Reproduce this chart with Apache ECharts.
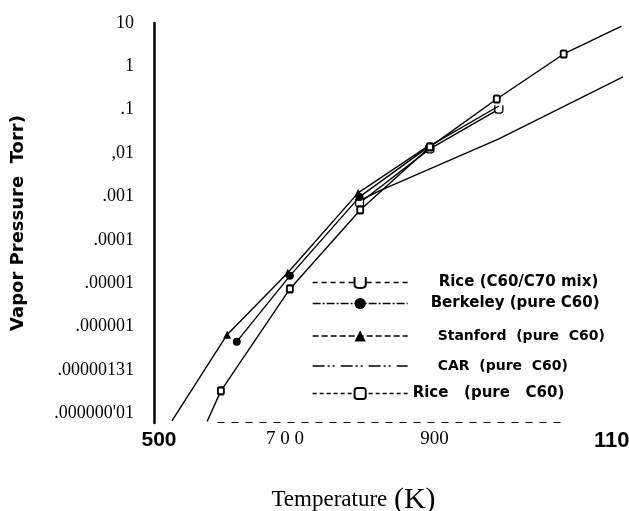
<!DOCTYPE html>
<html><head><meta charset="utf-8">
<script src="https://cdn.jsdelivr.net/npm/echarts@6/dist/echarts.min.js"></script>
<style>html,body{margin:0;padding:0;background:#fff}#c{width:629px;height:511px}</style>
</head><body><div id="c"></div>
<script>
// y tick labels for exponents -8 .. 1 (as printed on the figure)
const yTickLabels = [".000000'01", '.00000131', '.000001', '.00001', '.0001', '.001', ',01', '.1', '1', '10'];
// x tick labels
const xTickValues = [500, 700, 900, 1100];
const xTickLabels = ['500', '7 0 0', '900', '1100'];

// Series: temperature (K), vapor pressure (Torr), measured-point flags
const stanfordT = [526, 606, 694, 796, 900];
const stanfordP = [6.7e-9, 6.5e-7, 1.74e-5, 1.21e-3, 0.0155];
const stanfordM = [0, 1, 1, 1, 0];

const berkeleyT = [620, 697, 798, 900, 1000];
const berkeleyP = [4.5e-7, 1.48e-5, 9.8e-4, 0.0147, 0.122];
const berkeleyM = [1, 1, 1, 0, 0];

const riceMixT = [798, 900, 1000];
const riceMixP = [7.1e-4, 0.0125, 0.103];
const riceMixM = [1, 1, 1];

const carT = [800, 830, 1000, 1180];
const carP = [8.4e-4, 1.42e-3, 0.0212, 0.57];
const carM = [0, 0, 0, 0];

const ricePureT = [577, 597, 697, 799, 900, 997, 1094, 1178];
const ricePureP = [6.5e-9, 3.3e-8, 7.4e-6, 4.9e-4, 0.0139, 0.177, 1.93, 8.5];
const ricePureM = [0, 1, 1, 1, 1, 1, 1, 0];

const names = {
  mix: 'Rice (C60/C70 mix)',
  berk: 'Berkeley (pure C60)',
  stan: 'Stanford  (pure  C60)',
  car: 'CAR  (pure  C60)',
  pure: 'Rice   (pure   C60)'
};

function pts(T, P, M, sym) {
  return T.map((t, i) => ({ value: [t, P[i]], symbol: M[i] ? sym : 'none' }));
}
const uSym = 'path://M0,0 L0,7 Q0,10 4,10 Q8,10 8,7 L8,0';

function lineSeries(name, T, P, M, sym, size, itemStyle, z) {
  return {
    name, type: 'line', xAxisIndex: 0, yAxisIndex: 0,
    data: pts(T, P, M, sym), symbol: sym, symbolSize: size,
    showAllSymbol: true, clip: false, z: z,
    lineStyle: { color: '#000', width: 1.4 },
    itemStyle: itemStyle, animation: false, silent: true
  };
}

const series = [
  lineSeries(names.car, carT, carP, carM, 'none', 0, { color: '#000' }, 2),
  lineSeries(names.mix, riceMixT, riceMixP, riceMixM, uSym, 8, { color: '#fff', borderColor: '#000', borderWidth: 1.3 }, 3),
  lineSeries(names.stan, stanfordT, stanfordP, stanfordM, 'triangle', 8, { color: '#000' }, 4),
  lineSeries(names.berk, berkeleyT, berkeleyP, berkeleyM, 'circle', 8, { color: '#000' }, 4),
  lineSeries(names.pure, ricePureT, ricePureP, ricePureM, 'emptyRoundRect', [6, 7], { color: '#000', borderWidth: 1.3 }, 5)
];

function legendFor(name, centerY, padLeft, fontSize, dash, hideSymbol) {
  const item = { name: name, lineStyle: { type: dash, width: 1.3, color: '#000' } };
  if (hideSymbol) item.itemStyle = { opacity: 0 };
  return {
    orient: 'vertical', left: 312, top: centerY - 7, padding: 0,
    itemWidth: 95, itemHeight: 14, selectedMode: false,
    data: [item],
    formatter: n => '{t|' + n + '}',
    textStyle: {
      rich: { t: { fontFamily: 'DejaVu Sans', fontWeight: 'bold', fontSize: fontSize, color: '#000', padding: [0, 0, 0, padLeft] } }
    }
  };
}

const option = {
  backgroundColor: '#fff',
  animation: false,
  grid: [
    { left: 154, right: 6, top: 23, bottom: 88, containLabel: false, outerBoundsMode: 'none' },
    { left: 218, width: 344, top: 421, height: 1, containLabel: false, outerBoundsMode: 'none' }
  ],
  xAxis: [
    {
      type: 'value', gridIndex: 0, min: 500, max: 1180, interval: 100,
      axisLine: { show: false }, axisTick: { show: false }, splitLine: { show: false },
      axisLabel: {
        margin: 7,
        formatter: v => {
          const i = xTickValues.indexOf(v);
          if (i < 0) return '';
          return '{l' + i + '|' + xTickLabels[i] + '}';
        },
        rich: {
          l0: { fontFamily: 'Liberation Sans', fontWeight: 'bold', fontSize: 21, color: '#000', padding: [0, 0, 0, 10] },
          l1: { fontFamily: 'Liberation Serif', fontSize: 19, color: '#000', padding: [0, 14, 0, 0] },
          l2: { fontFamily: 'Liberation Serif', fontSize: 19, color: '#000', padding: [0, 0, 0, 9] },
          l3: { fontFamily: 'Liberation Sans', fontWeight: 'bold', fontSize: 22, color: '#000', padding: [0, 0, 0, 100] }
        }
      },
      name: '{t|Temperature}  {k|(K)}',
      nameLocation: 'middle', nameGap: 62,
      nameTextStyle: {
        padding: [0, 70, 0, 0],
        rich: {
          t: { fontFamily: 'Liberation Serif', fontSize: 23, color: '#000' },
          k: { fontFamily: 'Liberation Serif', fontSize: 30, color: '#000' }
        }
      }
    },
    {
      type: 'value', gridIndex: 1, min: 0, max: 1,
      axisLine: { show: true, lineStyle: { color: '#000', width: 1.2, type: [6, 8] } },
      axisTick: { show: false }, axisLabel: { show: false }, splitLine: { show: false }
    }
  ],
  yAxis: [
    {
      type: 'log', gridIndex: 0, min: 6e-9, max: 10, logBase: 10, splitNumber: 10,
      axisLine: { show: true, lineStyle: { color: '#000', width: 2.5 } },
      axisTick: { show: false }, splitLine: { show: false },
      axisLabel: {
        margin: 20, color: '#000', fontFamily: 'Liberation Serif', fontSize: 18,
        formatter: v => {
          const l = Math.log10(v);
          const e = Math.round(l);
          if (Math.abs(l - e) > 1e-6) return '';
          const s = yTickLabels[e + 8];
          return s === undefined ? '' : s;
        }
      },
      name: 'Vapor Pressure  Torr)',
      nameLocation: 'middle', nameGap: 127, nameRotate: 90,
      nameTextStyle: { fontFamily: 'DejaVu Sans', fontWeight: 'bold', fontSize: 18, color: '#000' }
    },
    { type: 'value', gridIndex: 1, show: false }
  ],
  legend: [
    legendFor(names.mix, 282, 26, 15, [5, 4], false),
    legendFor(names.berk, 303, 18, 15, [8, 2, 2, 2], false),
    legendFor(names.stan, 336, 25, 14, [6, 3], false),
    legendFor(names.car, 366, 25, 14, [12, 3, 2, 3, 2, 6], true),
    legendFor(names.pure, 393, 0, 15, [4, 3], false)
  ],
  series: series
};

const chart = echarts.init(document.getElementById('c'));
chart.setOption(option);
</script>
</body></html>
